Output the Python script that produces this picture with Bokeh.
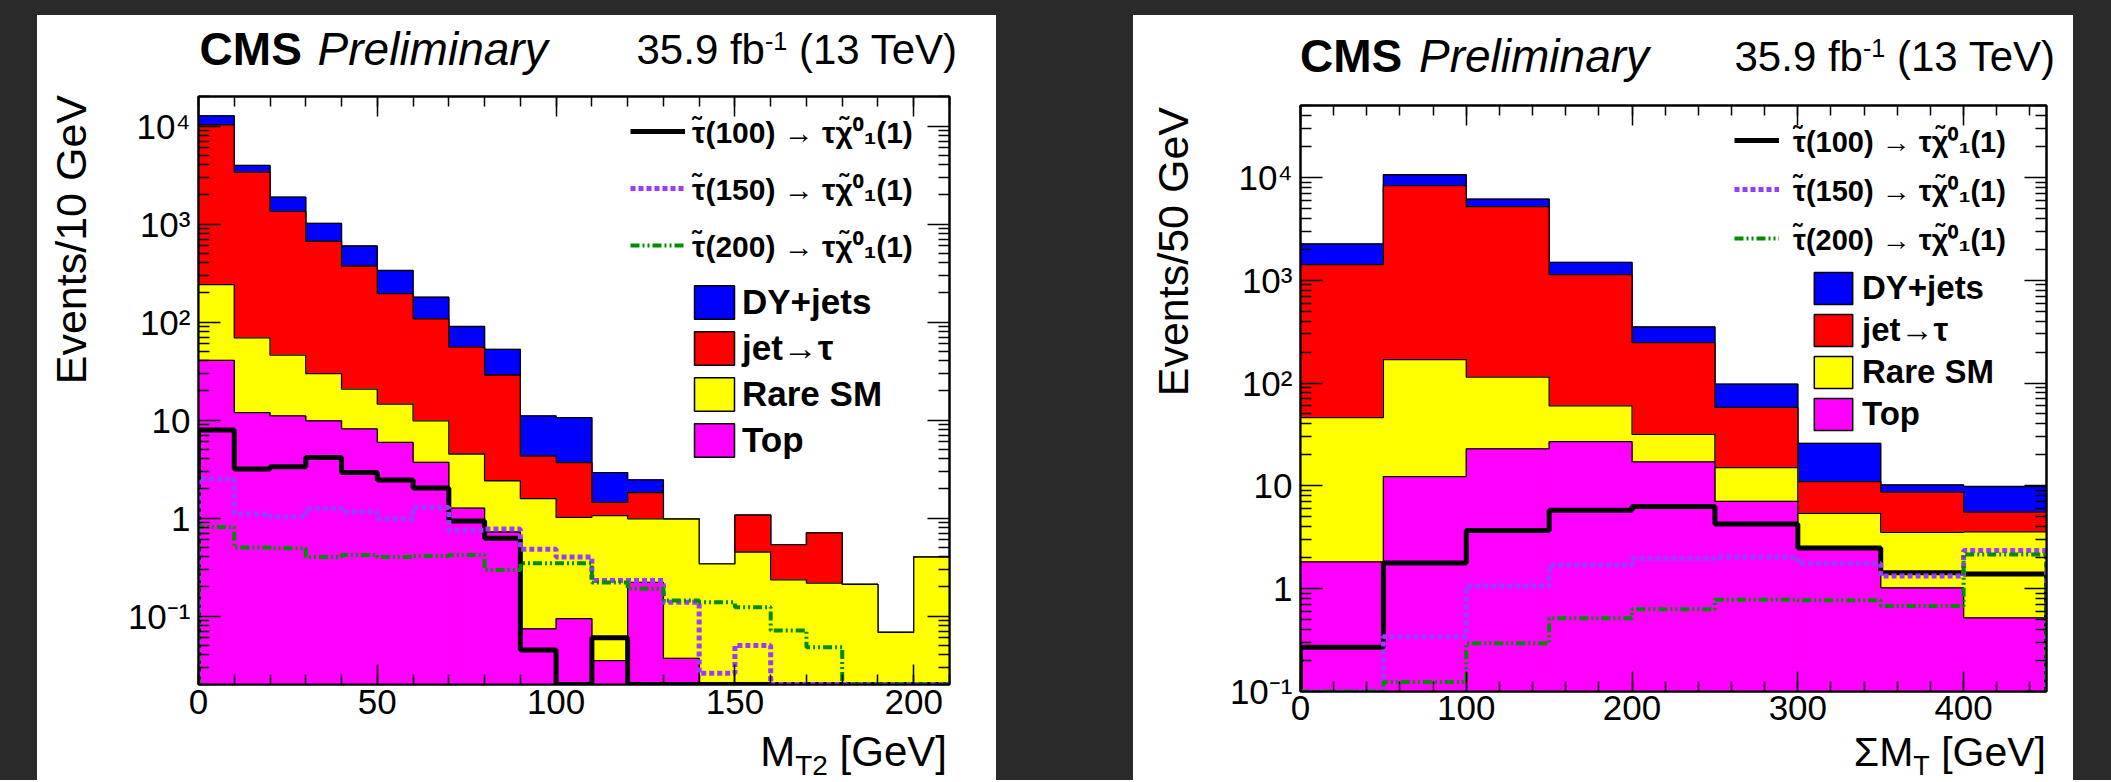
import numpy as np
from bokeh.plotting import figure
from bokeh.models import (FixedTicker, LinearAxis, LogAxis, Legend, LegendItem,
                          CustomJSTickFormatter, Spacer, Div)
from bokeh.layouts import row, column
from bokeh.embed import file_html
from bokeh.resources import INLINE

FONT = "Liberation Sans"

# ---------------- data: left panel (M_T2, 10 GeV bins) ----------------
mt2_edges = list(range(0, 211, 10))
mt2_top = [40.6, 11.9, 11.0, 9.8, 8.1, 5.9, 3.7, 1.26, 0.72, 0.074, 0.094, 0.035, 0.22, 0.037,
           0, 0, 0, 0, 0, 0, 0]
mt2_rare = [200, 57, 35, 20, 12.6, 8.6, 6.1, 3.24, 1.68, 1.5, 0.92, 1.02, 0.76, 0.94,
            0.34, 0.45, 0.234, 0.216, 0.21, 0.068, 0.40]
mt2_jet = [10060, 3320, 1300, 637, 352, 180, 98, 51, 26.4, 2.72, 2.67, 0.39, 0.84, 0,
           0, 0.62, 0.30, 0.49, 0, 0, 0]
mt2_dy = [2400, 570, 534, 349, 224, 141, 71, 34.5, 23.8, 6.7, 6.9, 1.46, 0.63, 0,
          0, 0, 0, 0, 0, 0, 0]
mt2_sig100 = [7.9, 3.16, 3.33, 4.14, 2.91, 2.44, 2.02, 0.93, 0.62, 0.045, 0, 0.06, 0, 0,
              0, 0, 0, 0, 0, 0, 0]
mt2_sig150 = [2.5, 1.1, 1.03, 1.25, 1.16, 0.98, 1.28, 0.75, 0.77, 0.48, 0.40, 0.23, 0.23, 0.138,
              0.026, 0.050, 0, 0, 0, 0, 0]
mt2_sig200 = [0.81, 0.50, 0.49, 0.40, 0.42, 0.40, 0.41, 0.42, 0.295, 0.345, 0.345, 0.22, 0.19, 0.144,
              0.138, 0.123, 0.071, 0.048, 0, 0, 0]

# ---------------- data: right panel (Sum M_T, 50 GeV bins) ----------------
smt_edges = list(range(0, 451, 50))
smt_top = [1.82, 12.3, 22.9, 26.9, 17.1, 7.06, 2.5, 1.02, 0.52]
smt_rare = [44.2, 156.7, 91.1, 33.1, 14.6, 8.0, 2.9, 2.51, 3.04]
smt_jet = [1374, 8160, 5070, 1075, 215, 42.8, 5.6, 5.17, 2.0]
smt_dy = [830, 2270, 960, 355, 104, 39.7, 14.9, 1.5, 4.3]
smt_sig100 = [0.27, 1.78, 3.67, 5.78, 6.3, 4.26, 2.49, 1.43, 1.39]
smt_sig150 = [0, 0.34, 1.06, 1.69, 1.97, 2.02, 1.76, 1.33, 2.35]
smt_sig200 = [0, 0.124, 0.295, 0.515, 0.63, 0.78, 0.77, 0.68, 2.15]

# ---------------- labels / styles ----------------
bkg_labels = ["DY+jets", "jet\u2192\u03c4", "Rare SM", "Top"]
bkg_colors = ["#0000ff", "#ff0000", "#ffff00", "#ff00ff"]
sig_labels = ["\u03c4\u0303(100) \u2192 \u03c4\u03c7\u0303\u2070\u2081(1)",
              "\u03c4\u0303(150) \u2192 \u03c4\u03c7\u0303\u2070\u2081(1)",
              "\u03c4\u0303(200) \u2192 \u03c4\u03c7\u0303\u2070\u2081(1)"]
sig_colors = ["#000000", "#9a3cff", "#008c00"]
sig_widths = [5, 5, 4]
sig_dashes = ["solid", "5 3", "9 3 2 3 2 3"]
ytick_labels = ["10\u207b\u00b9", "1", "10", "10\u00b2", "10\u00b3", "10\u2074"]
title_cms = "CMS"
title_prelim = "Preliminary"
title_lumi = "35.9 fb<sup style='font-size:0.6em;vertical-align:0.55em'>-1</sup> (13 TeV)"

FLOOR = 1e-4
BG = "#2a2a2a"
WHITE = {"background-color": "white"}
ASC = 0.8465   # baseline position (em) inside a line box with line-height 1


def step_xy(edges, vals, floor):
    e = np.asarray(edges, float)
    v = np.asarray(vals, float)
    v = np.where(v > 0, v, floor)
    xs = np.concatenate([[e[0]], np.repeat(e, 2)[1:-1], [e[-1]]])
    ys = np.concatenate([[floor], np.repeat(v, 2), [floor]])
    return xs, ys


def style_axis(ax, major_in, minor_in, labels=True):
    ax.major_tick_in = major_in
    ax.major_tick_out = 0
    ax.minor_tick_in = minor_in
    ax.minor_tick_out = 0
    ax.major_tick_line_color = "black"
    ax.minor_tick_line_color = "black"
    ax.major_tick_line_width = 1.5
    ax.minor_tick_line_width = 1.5
    ax.axis_line_color = "black"
    ax.axis_line_width = 2
    ax.major_label_text_font = FONT
    ax.major_label_text_color = "black"
    if labels:
        ax.major_label_text_font_size = "35px"
    else:
        ax.major_label_text_font_size = "1px"
        ax.major_label_standoff = 0


def span(text, size, baseline, left=None, right=None, extra=""):
    pos = f"left:{left:.1f}px;" if left is not None else f"right:{right:.1f}px;"
    top = baseline - ASC * size
    return (f"<span style=\"position:absolute;{pos}top:{top:.1f}px;font-family:'{FONT}';"
            f"font-size:{size}px;line-height:1;white-space:nowrap;color:#000;{extra}\">{text}</span>")


def text_div(w, h, spans):
    html = f"<div style=\"position:relative;width:{w}px;height:{h}px;\">{''.join(spans)}</div>"
    return Div(text=html, width=w, height=h, margin=0, styles=dict(WHITE))


def make_main(g, edges, layers, sigs, xmajor, xminor, xstandoff, lg):
    p = figure(title=None, frame_width=g["R"] - g["L"], frame_height=g["B"] - g["T"],
               x_range=(0, g["xmax"]), y_range=(g["ymin"], g["ymax"]),
               y_axis_type="log", output_backend="svg", toolbar_location=None,
               min_border_left=g["L"] - g["X0"], min_border_right=g["X1"] - g["R"],
               min_border_top=g["T"] - g["Y0"], min_border_bottom=g["Y1"] - g["B"],
               background_fill_color="white", border_fill_color="white",
               outline_line_color="black", outline_line_width=2)
    p.grid.visible = False

    xt = FixedTicker(ticks=xmajor, minor_ticks=xminor)
    decades = [10.0 ** k for k in range(-1, 5)]
    yminor = [m * 10.0 ** k for k in range(-2, 5) for m in range(2, 10)]
    yt = FixedTicker(ticks=decades, minor_ticks=yminor)
    yfmt = CustomJSTickFormatter(args=dict(labels=ytick_labels),
                                 code="const e = Math.round(Math.log10(tick)); return labels[e + 1] ?? '';")
    blank = CustomJSTickFormatter(code="return '';")

    p.xaxis.ticker = xt
    p.yaxis.ticker = yt
    p.yaxis.formatter = yfmt
    style_axis(p.xaxis[0], 20, 10)
    style_axis(p.yaxis[0], 22, 11)
    p.xaxis.major_label_standoff = xstandoff
    p.yaxis.major_label_standoff = 8

    top_ax = LinearAxis(ticker=xt, formatter=blank)
    style_axis(top_ax, 20, 10, labels=False)
    p.add_layout(top_ax, "above")
    right_ax = LogAxis(ticker=yt, formatter=blank)
    style_axis(right_ax, 22, 11, labels=False)
    p.add_layout(right_ax, "right")

    e = np.asarray(edges, float)
    cum = np.cumsum(np.array(layers, float), axis=0)   # rows: Top, +Rare, +jet, +DY
    colors_bottom_up = bkg_colors[::-1]
    box_renderers = [None] * 4
    for i in reversed(range(cum.shape[0])):
        vals = np.where(cum[i] > 0, cum[i], FLOOR)
        c = colors_bottom_up[i]
        p.quad(left=e[:-1], right=e[1:], bottom=FLOOR, top=vals,
               fill_color=c, line_color=c, line_width=1)
        xs, ys = step_xy(e, vals, FLOOR)
        p.line(xs, ys, line_color="black", line_width=1.3)
        # hidden copy with a black outline, used only for the legend swatch
        box_renderers[3 - i] = p.quad(left=e[:-1], right=e[1:], bottom=FLOOR, top=vals,
                                      fill_color=c, line_color="black", line_width=1.5,
                                      visible=False)

    sig_renderers = []
    for s, c, w, d in zip(sigs, sig_colors, sig_widths, sig_dashes):
        xs, ys = step_xy(e, s, g["ymin"])
        r = p.line(xs, ys, line_color=c, line_width=w, line_dash=d)
        sig_renderers.append(r)

    common = dict(padding=0, margin=0, border_line_color=None, background_fill_alpha=0,
                  label_text_font=FONT, label_text_font_style="bold", label_text_color="black")
    h1 = lg["h1"]
    bottom1 = lg["c1"] - h1 / 2 + 3 * h1 + 2 * lg["s1"]
    leg1 = Legend(items=[LegendItem(label=l, renderers=[r]) for l, r in zip(sig_labels, sig_renderers)],
                  location=(lg["x1"] - g["L"], g["B"] - bottom1),
                  glyph_width=lg["w1"], glyph_height=h1, label_height=h1, spacing=lg["s1"],
                  label_standoff=lg["st1"], label_text_font_size=lg["f1"], **common)
    p.add_layout(leg1)
    h2 = lg["h2"]
    bottom2 = lg["t2"] + 4 * h2 + 3 * lg["s2"]
    leg2 = Legend(items=[LegendItem(label=l, renderers=[r]) for l, r in zip(bkg_labels, box_renderers)],
                  location=(lg["x2"] - g["L"], g["B"] - bottom2),
                  glyph_width=lg["w2"], glyph_height=h2, label_height=h2, spacing=lg["s2"],
                  label_standoff=lg["st2"], label_text_font_size=lg["f2"], **common)
    p.add_layout(leg2)
    return p


def make_panel(g, edges, layers, sigs, xmajor, xminor, xstandoff, lg, t, ylab, xlab):
    PX0, PX1, PY0, PY1 = g["PX0"], g["PX1"], g["PY0"], g["PY1"]
    main = make_main(g, edges, layers, sigs, xmajor, xminor, xstandoff, lg)

    tw, th = PX1 - PX0, g["Y0"] - PY0
    tb = t["base"] - PY0
    title = text_div(tw, th, [
        span(title_cms, 46, tb, left=t["cms"] - PX0, extra="font-weight:bold;"),
        span(title_prelim, 46, tb, left=t["pre"] - PX0, extra="font-style:italic;"),
        span(title_lumi, 42, tb, right=PX1 - t["lumi"]),
    ])

    yw, yh = g["X0"] - PX0, PY1 - g["Y0"]
    ysize = 43
    ylab_html = (f"<span style=\"position:absolute;left:{ylab[1] - PX0 - ysize / 2:.1f}px;"
                 f"top:{ylab[2] - g['Y0']:.1f}px;font-family:'{FONT}';font-size:{ysize}px;"
                 f"line-height:1;white-space:nowrap;color:#000;writing-mode:vertical-rl;"
                 f"transform:rotate(180deg);\">{ylab[0]}</span>")
    ylabd = text_div(yw, yh, [ylab_html])

    xw, xh = g["X1"] - g["X0"], PY1 - g["Y1"]
    main_txt, sub_txt, unit_txt, fs, sub_fs, sub_drop, base, right_px = xlab
    inner = (f"{main_txt}<span style=\"font-size:{sub_fs}px;position:relative;top:{sub_drop}px;\">"
             f"{sub_txt}</span> {unit_txt}")
    xlabd = text_div(xw, xh, [span(inner, fs, base - g["Y1"], right=g["X1"] - right_px)])

    return column(title,
                  row(ylabd, column(main, xlabd, styles=dict(WHITE)), styles=dict(WHITE)),
                  styles=dict(WHITE))


# geometry in page pixels (frame L/R/T/B, main figure X0/X1/Y0/Y1, white panel PX0/PX1/PY0/PY1)
g1 = dict(L=198, R=949, T=96, B=684, xmax=210, ymin=0.02, ymax=2e4,
          X0=110, X1=996, Y0=84, Y1=730, PX0=37, PX1=996, PY0=15, PY1=780)
g2 = dict(L=1300, R=2046, T=105, B=691, xmax=450, ymin=0.1, ymax=5e4,
          X0=1210, X1=2073, Y0=93, Y1=736, PX0=1133, PX1=2073, PY0=15, PY1=780)

lg1 = dict(x1=630, c1=131, w1=55, h1=42, s1=15, st1=7, f1="30px",
           x2=689, t2=281, w2=50, h2=42, s2=4, st2=3, f2="35px")
lg2 = dict(x1=1734, c1=140, w1=45, h1=44, s1=5, st1=14, f1="29px",
           x2=1809, t2=268, w2=48, h2=40, s2=2, st2=5, f2="33px")

panel1 = make_panel(g1, mt2_edges, [mt2_top, mt2_rare, mt2_jet, mt2_dy],
                    [mt2_sig100, mt2_sig150, mt2_sig200],
                    [0, 50, 100, 150, 200], list(range(0, 211, 10)), 5, lg1,
                    dict(base=65, cms=199.6, pre=317.6, lumi=957),
                    ("Events/10 GeV", 71, 95),
                    ("M", "T2", "[GeV]", 42, 28, 9, 767, 947))
panel2 = make_panel(g2, smt_edges, [smt_top, smt_rare, smt_jet, smt_dy],
                    [smt_sig100, smt_sig150, smt_sig200],
                    [0, 100, 200, 300, 400], list(range(0, 451, 20)), 4, lg2,
                    dict(base=72, cms=1300, pre=1419, lumi=2055),
                    ("Events/50 GeV", 1173, 107),
                    ("\u03a3M", "T", "[GeV]", 41, 27, 9, 767, 2046))

PH = g1["PY1"] - g1["PY0"]
layout = column(Spacer(width=2111, height=g1["PY0"]),
                row(Spacer(width=g1["PX0"], height=PH), panel1,
                    Spacer(width=g2["PX0"] - g1["PX1"], height=PH), panel2,
                    Spacer(width=2111 - g2["PX1"], height=PH)),
                styles={"background-color": BG})

open("out.html", "w").write(file_html(layout, INLINE))
